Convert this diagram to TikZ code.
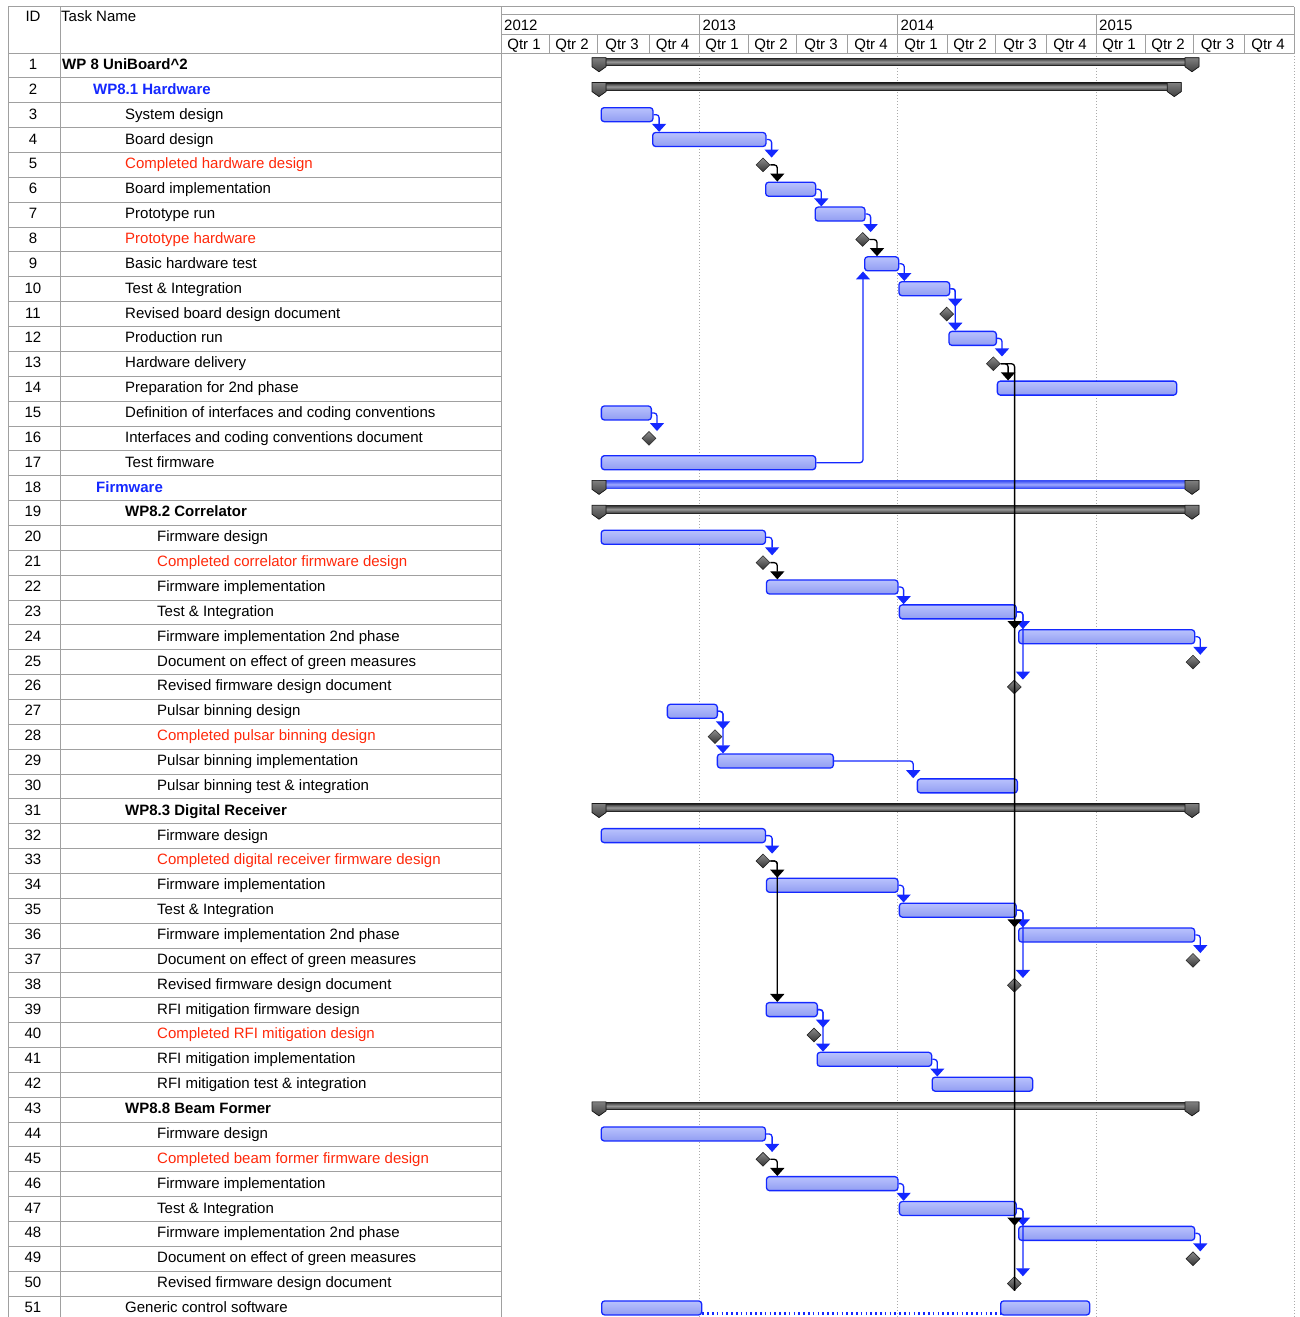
\documentclass[tikz,border=0pt]{standalone}
\usepackage{fontspec}
\setmainfont{Liberation Sans}
\usetikzlibrary{arrows.meta,shapes.geometric}
\definecolor{lblue}{RGB}{20,40,255}
\definecolor{tred}{RGB}{255,40,10}
\definecolor{tblue}{RGB}{20,40,255}
\definecolor{barfillA}{RGB}{185,194,253}
\definecolor{barfillB}{RGB}{145,157,242}
\definecolor{gridc}{RGB}{160,160,160}
\definecolor{dotc}{RGB}{170,170,170}
\definecolor{fwA}{RGB}{60,80,245}
\definecolor{fwM}{RGB}{160,170,255}
\newcommand\gfont{\fontsize{15}{17}\selectfont}
\tikzset{
 gridline/.style={draw=gridc, line width=0.8pt},
 yearline/.style={draw=dotc, line width=0.8pt, dash pattern=on 1pt off 2pt},
 taskbar/.style={rectangle, rounded corners=3pt, draw=lblue, line width=1.3pt, top color=barfillA, bottom color=barfillB, minimum height=14pt, inner sep=0pt, anchor=west},
 mile/.style={diamond, draw=black!85, line width=0.6pt, top color=black!45, bottom color=black!80, minimum width=14pt, minimum height=14pt, inner sep=0pt},
 sumbar/.style={rectangle, draw=black!85, line width=0.8pt, top color=black!80, bottom color=black!75, middle color=black!40, minimum height=7.3pt, inner sep=0pt, anchor=north west},
 fwbar/.style={rectangle, draw=fwA, line width=0.8pt, top color=fwA, bottom color=fwA, middle color=fwM, minimum height=7.3pt, inner sep=0pt, anchor=north west},
 sumcap/.style={draw=black!90, line width=0.7pt, top color=black!50, bottom color=black!75},
 lb/.style={draw=lblue, line width=1.3pt, rounded corners=3pt, -{Triangle[width=14pt,length=8pt]}},
 lk/.style={draw=black, line width=1.3pt, rounded corners=3pt, -{Triangle[width=14pt,length=8pt]}},
 lkline/.style={draw=black, line width=1.3pt, rounded corners=3pt},
 txt/.style={anchor=base west, inner sep=0pt, font=\gfont},
 idtxt/.style={anchor=base, inner sep=0pt, font=\gfont},
 tn/.style={},
 tr/.style={text=tred},
 tb/.style={font=\gfont\bfseries, text=tblue},
 tk/.style={font=\gfont\bfseries},
}
\newcommand\gY[1]{\pgfmathsetmacro\gy{53+(#1-0.5)*24.86}}
\newcommand\gBar[4]{\gY{#2}\node[taskbar, minimum width={(#4-#3)*1pt}] (#1) at (#3,\gy-0.5) {};}
\newcommand\gMile[3]{\gY{#2}\node[mile] (#1) at (#3,\gy) {};}
\newcommand\gCap[2]{\filldraw[sumcap] (#1-7,#2-7.7) -- (#1+7,#2-7.7) -- (#1+7,#2+1.3) -- (#1,#2+6.3) -- (#1-7,#2+1.3) -- cycle;}
\newcommand\gSum[5]{\gY{#2}\node[#5, minimum width={(#4-#3)*1pt}] (#1) at (#3,\gy-7.7) {};\gCap{#3}{\gy}\gCap{#4}{\gy}}
\newcommand\gLink[4][lb]{\path ([xshift=#4pt]#2.east) coordinate (gc); \draw[#1] (#2.east) -| (gc |- #3.north);}
\newcommand\gRow[4]{\gY{#1}\node[idtxt] (i#1) at (33,\gy+4) {#1}; \node[txt,#3] (t#1) at (#2,\gy+4) {#4};}
\begin{document}
\begin{tikzpicture}[x=1pt,y=-1pt]
\useasboundingbox (0,0) rectangle (1300,1317);
\clip (0,0) rectangle (1300,1317);
% grid
\draw[gridline] (8,6.5) -- (1294,6.5);
\draw[gridline] (501.5,14) -- (1294,14);
\draw[gridline] (501.5,34) -- (1294,34);
\draw[gridline] (8,53) -- (1294,53);
\foreach \k in {1,...,51} {\draw[gridline] (8,53+\k*24.86) -- (501.5,53+\k*24.86);}
\foreach \xx in {8,60,501.5} {\draw[gridline] (\xx,6.5) -- (\xx,1317);}
\draw[gridline] (1294,6.5) -- (1294,53);
\foreach \xx in {699,897,1096} {\draw[gridline] (\xx,14) -- (\xx,53);}
\foreach \xx in {549.3,597.7,649,748.3,796.7,847.7,947.3,995.3,1046.7,1145,1193.3,1244.3} {\draw[gridline] (\xx,34) -- (\xx,53);}
\foreach \xx in {699,897,1096,1294} {\draw[yearline] (\xx,53) -- (\xx,1317);}
% header
\node[idtxt] (hID) at (33,21.7) {ID};
\node[txt] (hTN) at (61,21.7) {Task Name};
\node[txt] (y12) at (504,30.5) {2012};
\node[txt] (y13) at (702.5,30.5) {2013};
\node[txt] (y14) at (900.5,30.5) {2014};
\node[txt] (y15) at (1099,30.5) {2015};
\foreach \cx/\q [count=\n] in {524/1,572/2,622/3,672.5/4,722/1,771/2,821/3,871/4,921/1,970/2,1020/3,1070/4,1119/1,1168/2,1217.5/3,1268/4}
  {\node[idtxt] (q\n) at (\cx,49.5) {Qtr \q};}
% table rows
\gRow{1}{62}{tk}{WP 8 UniBoard\textasciicircum 2}
\gRow{2}{93}{tb}{WP8.1 Hardware}
\gRow{3}{125}{tn}{System design}
\gRow{4}{125}{tn}{Board design}
\gRow{5}{125}{tr}{Completed hardware design}
\gRow{6}{125}{tn}{Board implementation}
\gRow{7}{125}{tn}{Prototype run}
\gRow{8}{125}{tr}{Prototype hardware}
\gRow{9}{125}{tn}{Basic hardware test}
\gRow{10}{125}{tn}{Test \& Integration}
\gRow{11}{125}{tn}{Revised board design document}
\gRow{12}{125}{tn}{Production run}
\gRow{13}{125}{tn}{Hardware delivery}
\gRow{14}{125}{tn}{Preparation for 2nd phase}
\gRow{15}{125}{tn}{Definition of interfaces and coding conventions}
\gRow{16}{125}{tn}{Interfaces and coding conventions document}
\gRow{17}{125}{tn}{Test firmware}
\gRow{18}{96}{tb}{Firmware}
\gRow{19}{125}{tk}{WP8.2 Correlator}
\gRow{20}{157}{tn}{Firmware design}
\gRow{21}{157}{tr}{Completed correlator firmware design}
\gRow{22}{157}{tn}{Firmware implementation}
\gRow{23}{157}{tn}{Test \& Integration}
\gRow{24}{157}{tn}{Firmware implementation 2nd phase}
\gRow{25}{157}{tn}{Document on effect of green measures}
\gRow{26}{157}{tn}{Revised firmware design document}
\gRow{27}{157}{tn}{Pulsar binning design}
\gRow{28}{157}{tr}{Completed pulsar binning design}
\gRow{29}{157}{tn}{Pulsar binning implementation}
\gRow{30}{157}{tn}{Pulsar binning test \& integration}
\gRow{31}{125}{tk}{WP8.3 Digital Receiver}
\gRow{32}{157}{tn}{Firmware design}
\gRow{33}{157}{tr}{Completed digital receiver firmware design}
\gRow{34}{157}{tn}{Firmware implementation}
\gRow{35}{157}{tn}{Test \& Integration}
\gRow{36}{157}{tn}{Firmware implementation 2nd phase}
\gRow{37}{157}{tn}{Document on effect of green measures}
\gRow{38}{157}{tn}{Revised firmware design document}
\gRow{39}{157}{tn}{RFI mitigation firmware design}
\gRow{40}{157}{tr}{Completed RFI mitigation design}
\gRow{41}{157}{tn}{RFI mitigation implementation}
\gRow{42}{157}{tn}{RFI mitigation test \& integration}
\gRow{43}{125}{tk}{WP8.8 Beam Former}
\gRow{44}{157}{tn}{Firmware design}
\gRow{45}{157}{tr}{Completed beam former firmware design}
\gRow{46}{157}{tn}{Firmware implementation}
\gRow{47}{157}{tn}{Test \& Integration}
\gRow{48}{157}{tn}{Firmware implementation 2nd phase}
\gRow{49}{157}{tn}{Document on effect of green measures}
\gRow{50}{157}{tn}{Revised firmware design document}
\gRow{51}{125}{tn}{Generic control software}
% summary bars
\gSum{s1}{1}{599}{1192}{sumbar}
\gSum{s2}{2}{599}{1174.3}{sumbar}
\gSum{s18}{18}{599}{1192}{fwbar}
\gSum{s19}{19}{599}{1192}{sumbar}
\gSum{s31}{31}{599}{1192}{sumbar}
\gSum{s43}{43}{599}{1192}{sumbar}
% task bars
\gBar{b3}{3}{600.5}{652.3}
\gBar{b4}{4}{652}{765.3}
\gMile{m5}{5}{763}
\gBar{b6}{6}{765}{815}
\gBar{b7}{7}{814.5}{864.3}
\gMile{m8}{8}{862.7}
\gBar{b9}{9}{864}{898}
\gBar{b10}{10}{898.3}{949}
\gMile{m11}{11}{946.7}
\gBar{b12}{12}{948.3}{995.7}
\gMile{m13}{13}{993.3}
\gBar{b14}{14}{996.7}{1176}
\gBar{b15}{15}{600.7}{650.7}
\gMile{m16}{16}{649}
\gBar{b17}{17}{600.7}{815}
\gBar{b20}{20}{600.5}{764.8}
\gMile{m21}{21}{763}
\gBar{b22}{22}{765.8}{897.3}
\gBar{b23}{23}{898.7}{1015.6}
\gBar{b24}{24}{1018}{1194}
\gMile{m25}{25}{1193}
\gMile{m26}{26}{1014.3}
\gBar{b27}{27}{666.7}{716.7}
\gMile{m28}{28}{715}
\gBar{b29}{29}{716.7}{832.7}
\gBar{b30}{30}{916.7}{1016.7}
\gBar{b32}{32}{600.5}{764.8}
\gMile{m33}{33}{763}
\gBar{b34}{34}{765.8}{897.3}
\gBar{b35}{35}{898.7}{1015.6}
\gBar{b36}{36}{1018}{1194}
\gMile{m37}{37}{1193}
\gMile{m38}{38}{1014.3}
\gBar{b39}{39}{765.5}{816.7}
\gMile{m40}{40}{814}
\gBar{b41}{41}{816.5}{931}
\gBar{b42}{42}{931.5}{1032}
\gBar{b44}{44}{600.5}{764.8}
\gMile{m45}{45}{763}
\gBar{b46}{46}{765.8}{897.3}
\gBar{b47}{47}{898.7}{1015.6}
\gBar{b48}{48}{1018}{1194}
\gMile{m49}{49}{1193}
\gMile{m50}{50}{1014.3}
\gBar{b51a}{51}{601}{701}
\gBar{b51b}{51}{1000}{1089}
\draw[draw=lblue, line width=2.2pt, dash pattern=on 1.6pt off 3.2pt] ([yshift=-5.5pt]b51a.east) -- ([yshift=-5.5pt]b51b.west);
% links
\gLink{b3}{b4}{5.5}
\gLink{b4}{m5}{5}
\gLink[lk]{m5}{b6}{7}
\gLink{b6}{b7}{5}
\gLink{b7}{m8}{5}
\gLink[lk]{m8}{b9}{7}
\gLink{b9}{b10}{5}
\gLink{b10}{b12}{5}
\gLink{b10}{m11}{5}
\gLink{b12}{m13}{5}
\gLink[lk]{m13}{b14}{7.5}
\gLink{b15}{m16}{5}
\path ([xshift=-1pt]b9.south west) coordinate (gu);
\draw[lb] (b17.east) -| (gu);
\gLink{b20}{m21}{6}
\gLink[lk]{m21}{b22}{7}
\gLink{b22}{b23}{5}
\gLink{b23}{m26}{6}
\gLink{b23}{b24}{6}
\gLink{b24}{m25}{5}
\gLink{b27}{b29}{5}
\gLink{b27}{m28}{5}
\path ([xshift=-3.5pt]b30.north west) coordinate (gv);
\draw[lb] (b29.east) -| (gv);
\gLink{b32}{m33}{6}
\gLink[lk]{m33}{b39}{7}
\gLink[lk]{m33}{b34}{7}
\gLink{b34}{b35}{5}
\gLink{b35}{m38}{6}
\gLink{b35}{b36}{6}
\gLink{b36}{m37}{5}
\gLink{b39}{b41}{5}
\gLink{b39}{m40}{5}
\gLink{b41}{b42}{5}
\gLink{b44}{m45}{6}
\gLink[lk]{m45}{b46}{7}
\gLink{b46}{b47}{5}
\gLink{b47}{m50}{6}
\gLink{b47}{b48}{6}
\gLink{b48}{m49}{5}
% long black link from Hardware delivery
\path ([xshift=14pt]m13.east) coordinate (gk);
\draw[lkline] (m13.east) -| (gk |- m50.south);
\foreach \t in {b24,b36,b48} {\path (gk |- \t.north) coordinate (ga); \draw[lk] ([yshift=8pt]ga) -- (ga);}
\end{tikzpicture}
\end{document}
